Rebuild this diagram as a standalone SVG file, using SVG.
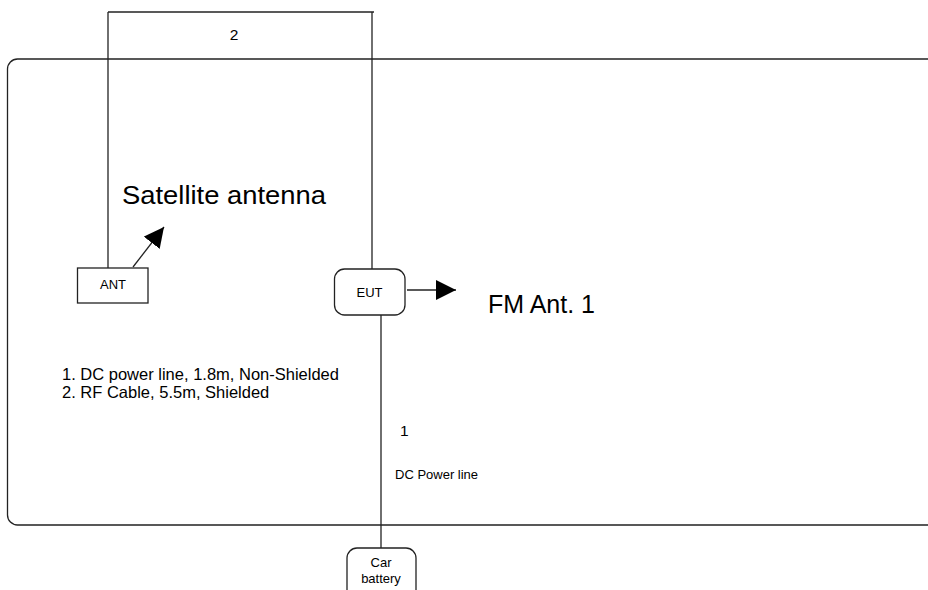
<svg xmlns="http://www.w3.org/2000/svg" width="928" height="590" viewBox="0 0 928 590">
<style>
.box{fill:#fff;stroke:#222;stroke-width:1.3}
.ln{fill:none;stroke:#222;stroke-width:1.3}
.t{font-family:"Liberation Sans",Arial,sans-serif;fill:#000}
</style>
<defs>
<marker id="ah" markerWidth="20" markerHeight="20" refX="20" refY="10" orient="auto" markerUnits="userSpaceOnUse">
<path d="M0,0 L20,10 L0,20 Z" fill="#000"/>
</marker>
</defs>
<rect id="area" x="7.5" y="59" width="940" height="466" rx="10" class="ln" stroke-width="1.5"/>
<g id="connectors">
<path class="ln" d="M108,268 V12"/>
<path class="ln" d="M108,12 H374" stroke-width="2.2"/>
<path class="ln" d="M372,12 V269"/>
<path class="ln" d="M381,315 V548"/>
<line class="ln" x1="133" y1="267" x2="164" y2="227" stroke-width="2" marker-end="url(#ah)"/>
<line class="ln" x1="407" y1="290" x2="456" y2="290" stroke-width="2" marker-end="url(#ah)"/>
<text class="t" x="234" y="40" font-size="15.5" text-anchor="middle">2</text>
<text class="t" x="400" y="436" font-size="15.5">1</text>
<text class="t" x="395" y="479" font-size="13">DC Power line</text>
</g>
<g id="ant">
<rect class="box" x="77.5" y="268" width="70.5" height="35"/>
<text class="t" x="113" y="289" font-size="13" text-anchor="middle">ANT</text>
</g>
<g id="eut">
<rect class="box" x="334.5" y="269" width="70.5" height="46" rx="10"/>
<text class="t" x="369.5" y="297" font-size="13" text-anchor="middle">EUT</text>
</g>
<g id="battery">
<rect class="box" x="347" y="548" width="69" height="52" rx="10"/>
<text class="t" x="381" y="567" font-size="13" text-anchor="middle">Car</text>
<text class="t" x="381" y="583" font-size="13" text-anchor="middle">battery</text>
</g>
<g id="labels">
<text class="t" x="122" y="204" font-size="26" textLength="204" lengthAdjust="spacingAndGlyphs">Satellite antenna</text>
<text class="t" x="488" y="313" font-size="25">FM Ant. 1</text>
<text class="t" x="62" y="380" font-size="16.5">1. DC power line, 1.8m, Non-Shielded</text>
<text class="t" x="62" y="398" font-size="16.5">2. RF Cable, 5.5m, Shielded</text>
</g>
</svg>
